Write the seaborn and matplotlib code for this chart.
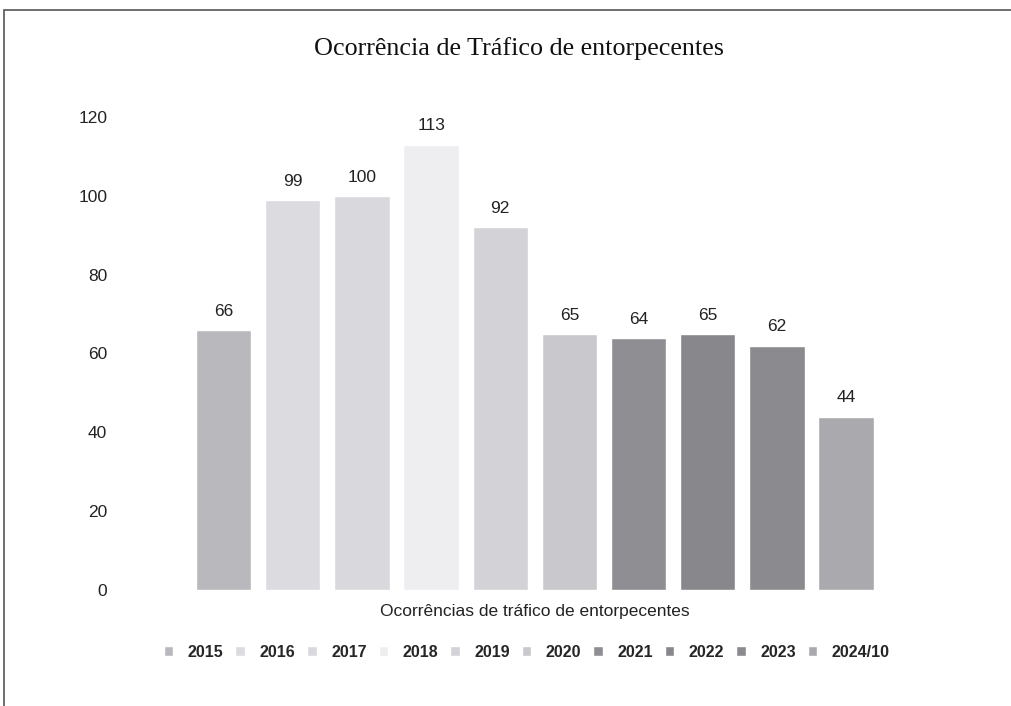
import pandas as pd
import matplotlib.pyplot as plt
import seaborn as sns
from matplotlib.patches import Rectangle

years = ["2015", "2016", "2017", "2018", "2019", "2020", "2021", "2022", "2023", "2024/10"]
counts = [66, 99, 100, 113, 92, 65, 64, 65, 62, 44]
category = "Ocorrências de tráfico de entorpecentes"
shades = ["#b9b9bd", "#dcdce0", "#d9d9dd", "#eeeef1", "#d3d3d7",
          "#c9c9cd", "#8f8f93", "#88888c", "#8b8b8f", "#aaaaae"]

df = pd.DataFrame({"cat": [category] * len(years), "ano": years, "n": counts})

sns.set_theme(style="white")
plt.rcParams["font.family"] = ["Liberation Sans", "DejaVu Sans"]

fig = plt.figure(figsize=(10.11, 7.06), dpi=100)
ax = fig.add_axes([0.1335, 0.1643, 0.791, 0.670])

sns.barplot(data=df, x="cat", y="n", hue="ano", hue_order=years,
            palette=shades, gap=0.2, width=0.8, saturation=1, ax=ax)

for c in ax.containers:
    ax.bar_label(c, padding=8, fontsize=12.5, color="#222222")

ax.set_xlim(-0.4625, 0.4625)
ax.set_ylim(0, 120)
ax.set_yticks(range(0, 121, 20))
ax.tick_params(axis="y", labelsize=12.5, colors="#222222", pad=14)
ax.tick_params(axis="x", labelsize=12.5, colors="#222222", pad=4)
ax.set_xlabel("")
ax.set_ylabel("")
sns.despine(ax=ax, left=True, bottom=True)

leg = ax.legend(loc="upper center", bbox_to_anchor=(0.49, -0.085), ncol=10,
                frameon=False, handlelength=0.6, handleheight=0.6,
                handletextpad=0.9, columnspacing=0.75,
                prop={"weight": "bold", "size": 11.5})

fig.suptitle("Ocorrência de Tráfico de entorpecentes", x=0.513, y=0.948,
             fontsize=18.8, family="Liberation Serif", color="#111111")

fig.patches.append(Rectangle((0.004, -0.1), 1.2, 1.086, transform=fig.transFigure,
                             fill=False, edgecolor="#555555", linewidth=1.2))

fig.savefig("out.png", dpi=100)
